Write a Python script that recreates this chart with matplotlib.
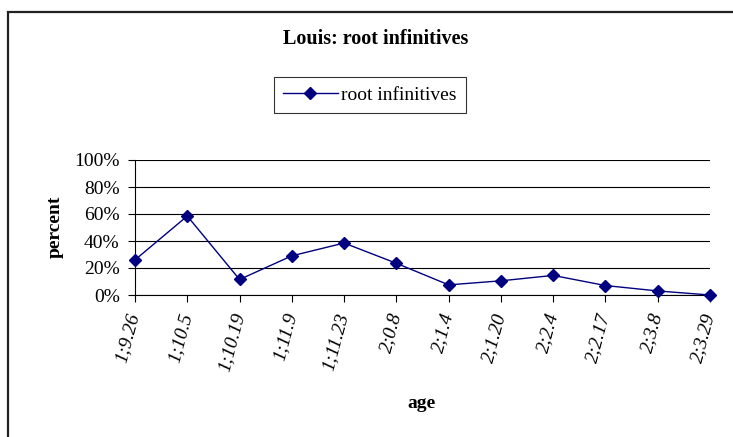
import matplotlib
matplotlib.use("Agg")
import matplotlib.pyplot as plt
from matplotlib.patches import Rectangle
from matplotlib.ticker import PercentFormatter

# Data
ages = ["1;9.26", "1;10.5", "1;10.19", "1;11.9", "1;11.23", "2;0.8",
        "2;1.4", "2;1.20", "2;2.4", "2;2.17", "2;3.8", "2;3.29"]
root_infinitives = [26, 58.5, 11.5, 29, 38.5, 23.5, 7.5, 10.5, 14.5, 7, 3, 0]
y_ticks = [0, 20, 40, 60, 80, 100]

plt.rcParams.update({
    'font.family': ['Liberation Serif', 'DejaVu Serif'],
    'font.size': 14,
})

fig = plt.figure(figsize=(7.33, 4.37), dpi=100)

# Chart area border (only top and left edges visible in the crop)
fig.patches.append(Rectangle((7.5 / 733, -0.1), 1.2, 1 - 12 / 437 + 0.1,
                             transform=fig.transFigure, fill=False,
                             edgecolor='#222222', linewidth=1.6))

ax = fig.add_axes([135 / 733, 1 - 295 / 437, 575 / 733, 135 / 437])
x = list(range(len(ages)))
line, = ax.plot(x, root_infinitives, color='#000080', linewidth=1,
                marker='D', markersize=6.5, markerfacecolor='#000080',
                markeredgecolor='#000080', clip_on=False, zorder=5,
                label='root infinitives')

ax.set_xlim(0, len(ages) - 1)
ax.set_ylim(0, 100)
ax.set_yticks(y_ticks)
ax.yaxis.set_major_formatter(PercentFormatter(decimals=0))
ax.set_xticks(x)
ax.set_xticklabels(ages, rotation=75, ha='right', va='center',
                   rotation_mode='anchor', style='italic', fontsize=14)
ax.tick_params(axis='x', direction='out', length=5, width=0.8, pad=8)
ax.tick_params(axis='y', direction='out', length=5, width=0.8, pad=6)

ax.grid(True, axis='y', color='#000000', linewidth=0.8)
ax.set_axisbelow(True)
for side in ('top', 'right'):
    ax.spines[side].set_visible(False)
for side in ('left', 'bottom'):
    ax.spines[side].set_linewidth(0.8)

fig.text(376 / 733, 1 - 39 / 437, "Louis: root infinitives", ha='center',
         va='center', fontweight='bold', fontsize=14.5)
fig.text(55 / 733, 1 - 227 / 437, "percent", ha='center', va='center',
         rotation=90, fontweight='bold', fontsize=14)
fig.text(422 / 733, 1 - 403 / 437, "age", ha='center', va='center',
         fontweight='bold', fontsize=14)

leg = fig.legend(handles=[line], loc='center', bbox_to_anchor=(370 / 733, 1 - 95 / 437),
                 frameon=True, fancybox=False, edgecolor='#000000',
                 handlelength=2.8, handletextpad=0.2, borderpad=0.45, fontsize=14)
leg.get_frame().set_linewidth(0.8)

fig.savefig("out.png", dpi=100)
